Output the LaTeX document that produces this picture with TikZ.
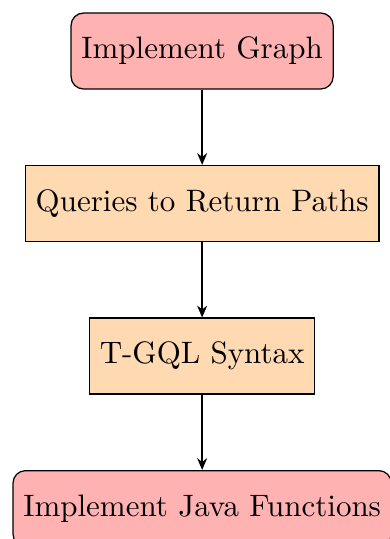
\documentclass[tikz,border=0pt]{standalone}
\usepackage{tikz}
\usetikzlibrary{positioning}
\usetikzlibrary{arrows.meta}

\tikzset{
  stepround/.style={draw, rounded corners, fill=red!30, minimum height=24.5pt, inner sep=3.33pt},
  stepsquare/.style={draw, fill=orange!30, minimum height=24.5pt, inner sep=3.33pt},
  flowarrow/.style={-{Stealth[length=3.8pt, width=3.2pt]}, thick}
}

\begin{document}
\begin{tikzpicture}[node distance=24.3pt]
  % Frame of the page
  \useasboundingbox (-65.2pt,-157.4pt) rectangle (60.3pt,16.45pt);

  % Steps
  \node[stepround] (graph) at (0,0) {Implement Graph};
  \node[stepsquare, below=of graph] (paths) {Queries to Return Paths};
  \node[stepsquare, below=of paths] (syntax) {T-GQL Syntax};
  \node[stepround, below=of syntax] (java) {Implement Java Functions};

  % Arrows
  \draw[flowarrow] (graph) -- (paths);
  \draw[flowarrow] (paths) -- (syntax);
  \draw[flowarrow] (syntax) -- (java);
\end{tikzpicture}
\end{document}
